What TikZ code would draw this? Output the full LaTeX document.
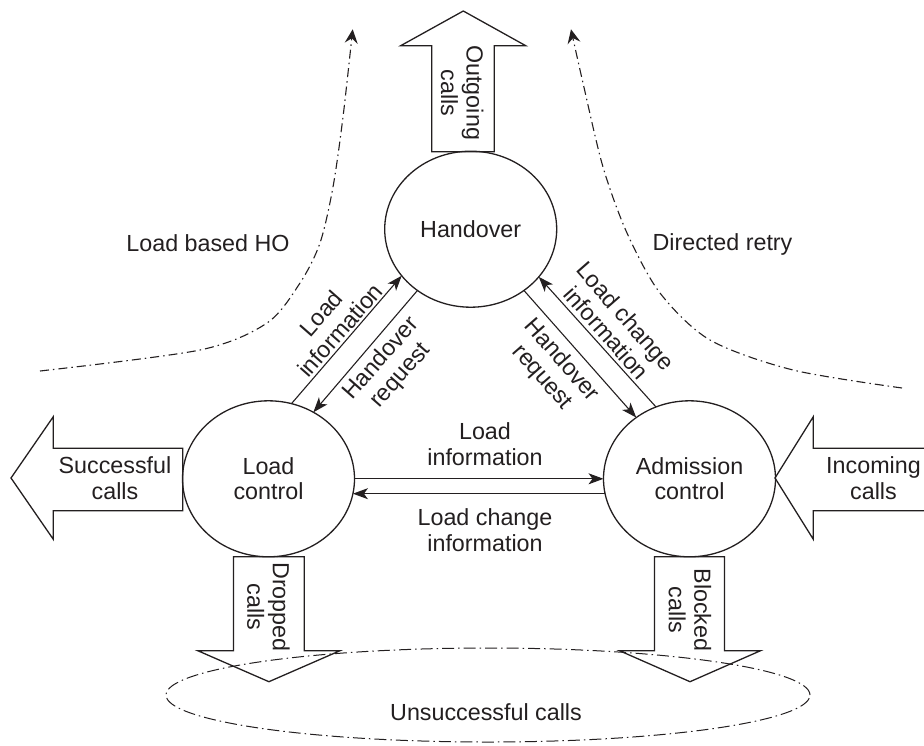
\documentclass[tikz,border=0pt]{standalone}
\usepackage{fontspec}
\setmainfont{Liberation Sans}
\usetikzlibrary{arrows.meta,shapes.geometric}
\definecolor{ink}{RGB}{35,31,32}
\begin{document}
\begin{tikzpicture}[x=1pt,y=-1pt,
  every node/.style={font=\fontsize{23.3}{25.6}\selectfont, text=ink, align=center, inner sep=0pt},
  blockstate/.style={ellipse, draw=ink, line width=1.3pt, minimum width=172pt, minimum height=156pt, outer sep=0pt},
  flow/.style={draw=ink, line width=1.3pt, line join=miter},
  msg/.style={draw=ink, line width=1.1pt, -{Stealth[length=15pt,width=11pt,inset=4pt]}},
  route/.style={draw=ink, line width=1.1pt, dash pattern=on 9pt off 4pt on 1.5pt off 4pt,
    -{Stealth[length=14pt,width=13pt,inset=5pt]}},
  pool/.style={ellipse, draw=ink, line width=1.0pt, dash pattern=on 12pt off 4pt on 1.5pt off 4pt,
    minimum width=644pt, minimum height=94pt},
]
\useasboundingbox (0,0) rectangle (924,745);
\clip (0,0) rectangle (924,745);

% the three functional blocks
\node[blockstate] (ho) at (470.7,229.2) {Handover};
\node[blockstate] (lc) at (268.5,478.8) {Load\\control};
\node[blockstate] (ac) at (689.5,478.8) {Admission\\control};

% pool of unsuccessful calls
\node[pool] (uc) at (488,695) {};
\node (uct) at (486,712) {Unsuccessful calls};

% block arrows for the call flows
\draw[flow] (431.7,151.7) -- (431.7,45.7) -- (400.7,45.7) -- (463.3,11) -- (525.7,45.7)
  -- (494.3,45.7) -- (494.3,151.7) -- cycle;
\draw[flow] (182.7,448.3) -- (53.3,448.3) -- (53.3,416.7) -- (11,478) -- (53.3,539.3)
  -- (53.3,510.7) -- (182.7,510.7) -- cycle;
\draw[flow] (935,448.3) -- (813.3,448.3) -- (813.3,416.7) -- (775,478) -- (813.3,539.3)
  -- (813.3,510.7) -- (935,510.7);
\draw[flow] (233.5,556.7) -- (233.5,650.7) -- (197.8,650.7) -- (268.9,681.7) -- (340,650.7)
  -- (304.3,650.7) -- (304.3,556.7) -- cycle;
\draw[flow] (654.5,556.7) -- (654.5,650.7) -- (619.5,650.7) -- (690,681.7) -- (760.5,650.7)
  -- (724.5,650.7) -- (724.5,556.7) -- cycle;

\node[rotate=-90] (og) at (462.2,92.7) {Outgoing\\calls};
\node[rotate=-90] (dc) at (268.5,607) {Dropped\\calls};
\node[rotate=-90] (bc) at (690,610) {Blocked\\calls};
\node (sc) at (115,478) {Successful\\calls};
\node (ic) at (873.5,478) {Incoming\\calls};

% signalling between the blocks
\draw[msg] (lc.73.7) -- (ho.214.8);
\draw[msg] (ho.229.4) -- (lc.56.5);
\draw[msg] (ho.311) -- (ac.131.3);
\draw[msg] (ac.115.6) -- (ho.325.3);
\draw[msg] (lc.east) -- (ac.west);
\draw[msg] (ac.190.9) -- (lc.-10.9);

\node[rotate=48.7] (li) at (330.5,321.7) {Load\\information};
\node[rotate=48.7] (hrl) at (391.2,367.3) {Handover\\request};
\node[rotate=-48.7] (hrr) at (551.7,369) {Handover\\request};
\node[rotate=-48.7] (lci) at (616.2,324.5) {Load change\\information};
\node (lih) at (485,444) {Load\\information};
\node (lch) at (485,530) {Load change\\information};

% traffic steering routes
\coordinate (lbStart) at (40,371);
\coordinate (lbTip) at (352.7,29.3);
\coordinate (drStart) at (902,388);
\coordinate (drTip) at (571,29.3);
\draw[route] plot[smooth] coordinates {(lbStart) (200,350) (267,323) (300,283) (320,243)
  (333,187) (343,117) (lbTip)};
\draw[route] plot[smooth] coordinates {(drStart) (793,370) (710,340) (660,293) (627,233)
  (603,167) (583,83) (drTip)};

\node[anchor=base] (lbl) at (208,251) {Load based HO};
\node[anchor=base] (drl) at (722.5,250.5) {Directed retry};
\end{tikzpicture}
\end{document}
